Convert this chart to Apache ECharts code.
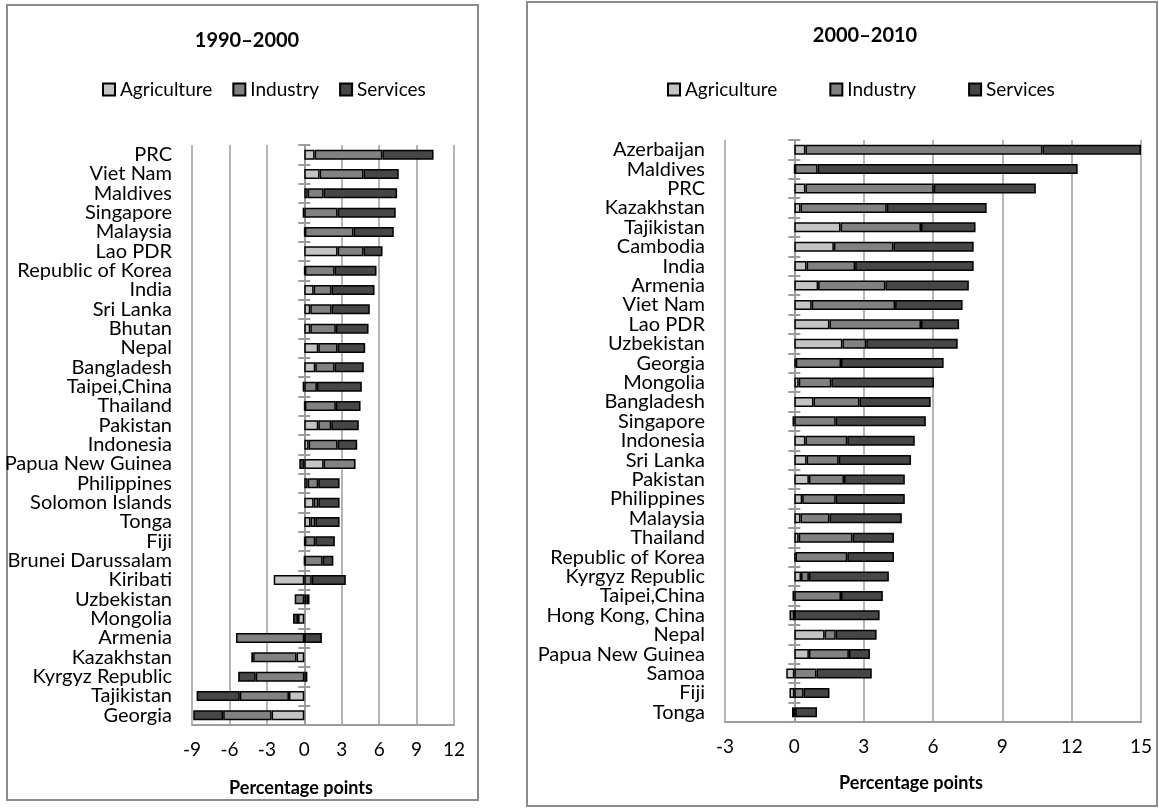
<!DOCTYPE html>
<html>
<head>
<meta charset="utf-8">
<script src="https://cdn.jsdelivr.net/npm/echarts@6/dist/echarts.min.js"></script>
<style>
  html, body { margin: 0; padding: 0; background: #fff; }
  #chart { width: 1159px; height: 808px; }
</style>
</head>
<body>
<div id="chart"></div>
<script>
// 1990-2000 panel
var cats_a = ["PRC", "Viet Nam", "Maldives", "Singapore", "Malaysia", "Lao PDR", "Republic of Korea", "India",
  "Sri Lanka", "Bhutan", "Nepal", "Bangladesh", "Taipei,China", "Thailand", "Pakistan", "Indonesia",
  "Papua New Guinea", "Philippines", "Solomon Islands", "Tonga", "Fiji", "Brunei Darussalam", "Kiribati",
  "Uzbekistan", "Mongolia", "Armenia", "Kazakhstan", "Kyrgyz Republic", "Tajikistan", "Georgia"];
var agri_a = [0.83, 1.23, 0.27, -0.13, 0.05, 2.67, 0.05, 0.75, 0.48, 0.48, 1.12, 0.88, -0.13, 0.05, 1.12, 0.35,
  1.55, 0.27, 0.75, 0.5, 0.05, 0.02, -2.45, 0.2, -0.5, 0, -0.62, 0.25, -1.23, -2.62];
var ind_a = [5.43, 3.52, 1.28, 2.67, 3.9, 2.08, 2.38, 1.44, 1.71, 2.05, 1.55, 1.55, 1.01, 2.48, 1.04, 2.32,
  2.56, 0.85, 0.37, 0.38, 0.83, 1.45, 0.6, -0.77, 0, -5.47, -3.48, -3.89, -3.94, -3.88];
var svc_a = [4.1, 2.82, 5.89, 4.66, 3.22, 1.52, 3.36, 3.44, 3.06, 2.62, 2.21, 2.34, 3.6, 1.98, 2.21, 1.57,
  -0.4, 1.71, 1.71, 1.95, 1.57, 0.86, 2.73, 0.22, -0.4, 1.41, -0.15, -1.41, -3.46, -2.4];

// 2000-2010 panel
var cats_b = ["Azerbaijan", "Maldives", "PRC", "Kazakhstan", "Tajikistan", "Cambodia", "India", "Armenia",
  "Viet Nam", "Lao PDR", "Uzbekistan", "Georgia", "Mongolia", "Bangladesh", "Singapore", "Indonesia",
  "Sri Lanka", "Pakistan", "Philippines", "Malaysia", "Thailand", "Republic of Korea", "Kyrgyz Republic",
  "Taipei,China", "Hong Kong, China", "Nepal", "Papua New Guinea", "Samoa", "Fiji", "Tonga"];
var agri_b = [0.48, 0.02, 0.48, 0.27, 2.0, 1.71, 0.53, 1.03, 0.75, 1.52, 2.08, 0.06, 0.19, 0.83, -0.08, 0.48,
  0.53, 0.63, 0.34, 0.27, 0.19, 0.05, 0.29, -0.08, 0, 1.31, 0.63, -0.35, -0.21, -0.1];
var ind_b = [10.26, 0.99, 5.55, 3.73, 3.48, 2.58, 2.1, 2.91, 3.61, 3.96, 1.03, 1.96, 1.41, 1.99, 1.79, 1.81,
  1.39, 1.52, 1.45, 1.25, 2.33, 2.24, 0.34, 2.02, -0.21, 0.48, 1.73, 0.96, 0.4, 0.04];
var svc_b = [4.26, 11.25, 4.42, 4.32, 2.36, 3.47, 5.13, 3.61, 2.92, 1.65, 3.96, 4.44, 4.44, 3.08, 3.9, 2.92,
  3.13, 2.63, 2.99, 3.13, 1.79, 2.02, 3.46, 1.81, 3.69, 1.77, 0.91, 2.39, 1.12, 0.94];

var sectors = ["Agriculture", "Industry", "Services"];
var colors = ["#c4c4c4", "#818181", "#464646"];

var font = "Lato";
var gridCol = "#9c9c9c";

// grid boxes, px
var gridA = { left: 192, width: 262, top: 145, height: 580, min: -9, max: 12 };
var gridB = { left: 725, width: 416, top: 140, height: 582, min: -3, max: 15 };

function zeroOffset(g) {
  return (0 - g.min) / (g.max - g.min) * g.width;
}

function makeBars(data, idx, stack) {
  return data.map(function (vals, i) {
    return {
      name: sectors[i], type: "bar", stack: stack,
      xAxisIndex: idx, yAxisIndex: idx * 3,
      barWidth: 10,
      itemStyle: { color: colors[i], borderColor: "#000", borderWidth: 1.5 },
      data: vals
    };
  });
}

function valueAxis(idx, g) {
  return {
    type: "value", gridIndex: idx, min: g.min, max: g.max, interval: 3,
    axisLine: { show: true, onZero: false, lineStyle: { color: gridCol, width: 2 } },
    axisTick: { show: false },
    axisLabel: { color: "#000", fontSize: 19, fontFamily: font, margin: 15 },
    splitLine: { show: true, lineStyle: { color: gridCol, width: 1.5 } }
  };
}

// label axis at the grid edge + two axes moved onto the zero line for cross ticks
function catAxes(idx, cats, g) {
  var off = -zeroOffset(g);
  var tickAxis = function (inside) {
    return {
      type: "category", gridIndex: idx, data: cats, inverse: true, position: "left", offset: off,
      axisLine: { show: true, onZero: false, lineStyle: { color: gridCol, width: 2 } },
      axisTick: { show: true, inside: inside, length: 6, lineStyle: { color: gridCol, width: 2 } },
      axisLabel: { show: false }
    };
  };
  return [{
    type: "category", gridIndex: idx, data: cats, inverse: true, position: "left",
    axisLine: { show: false, onZero: false },
    axisTick: { show: false },
    axisLabel: { color: "#000", fontSize: 20, fontFamily: font, margin: 20, interval: 0 }
  }, tickAxis(false), tickAxis(true)];
}

var chart = echarts.init(document.getElementById("chart"));

chart.setOption({
  animation: false,
  textStyle: { fontFamily: font },
  graphic: [
    { type: "rect", shape: { x: 7, y: 5, width: 471, height: 795 },
      style: { fill: "none", stroke: "#8c8c8c", lineWidth: 2 }, z: -1 },
    { type: "rect", shape: { x: 527, y: 2, width: 630, height: 804 },
      style: { fill: "none", stroke: "#8c8c8c", lineWidth: 2 }, z: -1 }
  ],
  title: [
    { text: "1990–2000", left: 242, top: 26, textAlign: "center",
      textStyle: { fontSize: 20, fontWeight: "bold", fontFamily: font, color: "#000" } },
    { text: "2000–2010", left: 860, top: 21, textAlign: "center",
      textStyle: { fontSize: 20, fontWeight: "bold", fontFamily: font, color: "#000" } },
    { text: "Percentage points", left: 296, top: 774, textAlign: "center",
      textStyle: { fontSize: 18, fontWeight: "bold", fontFamily: font, color: "#000" } },
    { text: "Percentage points", left: 906, top: 769, textAlign: "center",
      textStyle: { fontSize: 18, fontWeight: "bold", fontFamily: font, color: "#000" } }
  ],
  legend: [
    { data: sectors, left: 97, top: 75, itemWidth: 12, itemHeight: 12, itemGap: 20, icon: "rect",
      textStyle: { fontSize: 19, color: "#000", fontFamily: font } },
    { data: sectors, left: 662, top: 75, itemWidth: 12, itemHeight: 12, itemGap: 52, icon: "rect",
      textStyle: { fontSize: 19, color: "#000", fontFamily: font } }
  ],
  grid: [
    { left: gridA.left, width: gridA.width, top: gridA.top, height: gridA.height, outerBoundsMode: "none" },
    { left: gridB.left, width: gridB.width, top: gridB.top, height: gridB.height, outerBoundsMode: "none" }
  ],
  xAxis: [valueAxis(0, gridA), valueAxis(1, gridB)],
  yAxis: catAxes(0, cats_a, gridA).concat(catAxes(1, cats_b, gridB)),
  series: makeBars([agri_a, ind_a, svc_a], 0, "a").concat(makeBars([agri_b, ind_b, svc_b], 1, "b"))
});
</script>
</body>
</html>
